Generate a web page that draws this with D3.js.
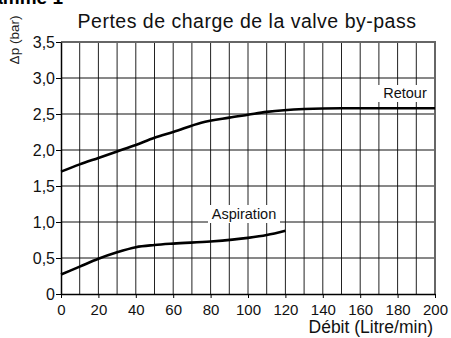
<!DOCTYPE html>
<html>
<head>
<meta charset="utf-8">
<script src="https://cdn.jsdelivr.net/npm/d3@7"></script>
<style>
  html, body { margin: 0; padding: 0; background: #fff; }
  svg { display: block; font-family: Arial, "Liberation Sans", sans-serif; }
</style>
</head>
<body>
<svg id="chart" width="451" height="338"></svg>
<script>
// Flow (L/min) vs pressure drop (bar) for the by-pass valve
const retourFlow = [0, 10, 20, 30, 40, 50, 60, 75, 90, 100, 110, 130, 150, 175, 200];
const retourDp   = [1.70, 1.80, 1.89, 1.98, 2.07, 2.17, 2.25, 2.38, 2.45, 2.49, 2.53, 2.57, 2.58, 2.58, 2.58];
const aspFlow    = [0, 10, 20, 30, 40, 50, 60, 80, 100, 110, 120];
const aspDp      = [0.27, 0.38, 0.49, 0.58, 0.65, 0.68, 0.70, 0.73, 0.78, 0.82, 0.88];
const xTicks = d3.range(0, 201, 20);
const xGrid  = d3.range(0, 201, 10);
const yTicks = [0, 0.5, 1.0, 1.5, 2.0, 2.5, 3.0, 3.5];
const yTickLabels = ["0", "0,5", "1,0", "1,5", "2,0", "2,5", "3,0", "3,5"];

const svg = d3.select("#chart");
const plotL = 61, plotR = 435, plotT = 42, plotB = 294;

const x = d3.scaleLinear().domain([0, 200]).range([plotL, plotR]);
const y = d3.scaleLinear().domain([0, 3.5]).range([plotB, plotT]);

// Figure caption, partly clipped at the top edge
svg.append("text").attr("x", 63).attr("y", 4).attr("text-anchor", "end")
  .attr("font-size", 19).attr("font-weight", "bold").text("Diagramme 1");

// Title
svg.append("text").attr("x", 247).attr("y", 28).attr("text-anchor", "middle")
  .attr("font-size", 19.5).attr("letter-spacing", 0.5).attr("fill", "#111")
  .text("Pertes de charge de la valve by-pass");

// Grid
const grid = svg.append("g");
grid.selectAll("line.v").data(xGrid.slice(1, -1)).join("line")
  .attr("x1", d => x(d)).attr("x2", d => x(d))
  .attr("y1", plotT).attr("y2", plotB)
  .attr("stroke", "#222").attr("stroke-width", 1);
grid.selectAll("line.h").data(yTicks.slice(1, -1)).join("line")
  .attr("x1", plotL).attr("x2", plotR)
  .attr("y1", d => y(d)).attr("y2", d => y(d))
  .attr("stroke", "#111").attr("stroke-width", 1);

// Top and right frame
svg.append("line").attr("x1", plotL).attr("x2", plotR + 1).attr("y1", plotT).attr("y2", plotT)
  .attr("stroke", "#666").attr("stroke-width", 2);
svg.append("line").attr("x1", plotR).attr("x2", plotR).attr("y1", plotT).attr("y2", plotB)
  .attr("stroke", "#666").attr("stroke-width", 2);

// Axes
const xAxis = d3.axisBottom(x).tickValues(xTicks).tickSize(4).tickSizeOuter(0)
  .tickFormat(d3.format("d"));
const gx = svg.append("g").attr("transform", `translate(0,${plotB})`).call(xAxis);
gx.select(".domain").attr("stroke", "#000").attr("stroke-width", 1.5);
gx.selectAll(".tick line").attr("stroke", "#000");
gx.selectAll("text").attr("font-size", 15).attr("fill", "#111").attr("dy", "0.92em")
  .attr("font-family", "Arial, 'Liberation Sans', sans-serif");

const yAxis = d3.axisLeft(y).tickValues(yTicks).tickSize(5).tickSizeOuter(0)
  .tickFormat((d, i) => yTickLabels[i]);
const gy = svg.append("g").attr("transform", `translate(${plotL},0)`).call(yAxis);
gy.select(".domain").attr("stroke", "#000").attr("stroke-width", 1.5);
gy.selectAll(".tick line").attr("stroke", "#000");
gy.selectAll("text").attr("font-size", 16).attr("fill", "#111").attr("x", -6)
  .attr("font-family", "Arial, 'Liberation Sans', sans-serif");

// Axis titles
svg.append("text").attr("transform", "translate(19,40) rotate(-90)")
  .attr("text-anchor", "middle").attr("font-size", 13.5).attr("fill", "#222").text("Δp (bar)");
svg.append("text").attr("x", 433).attr("y", 333).attr("text-anchor", "end")
  .attr("font-size", 17.5).attr("fill", "#111").text("Débit (Litre/min)");

// Curves
const line = d3.line().curve(d3.curveMonotoneX).x(d => x(d[0])).y(d => y(d[1]));
svg.append("path").datum(d3.zip(retourFlow, retourDp)).attr("d", line)
  .attr("fill", "none").attr("stroke", "#000").attr("stroke-width", 2.6);
svg.append("path").datum(d3.zip(aspFlow, aspDp)).attr("d", line)
  .attr("fill", "none").attr("stroke", "#000").attr("stroke-width", 2.6);

// Curve labels on white boxes
function label(text, x0, y0, w, h, tx, ty) {
  svg.append("rect").attr("x", x0).attr("y", y0).attr("width", w).attr("height", h)
    .attr("fill", "#fff");
  svg.append("text").attr("x", tx).attr("y", ty).attr("text-anchor", "middle")
    .attr("font-size", 14.5).attr("fill", "#111").text(text);
}
label("Aspiration", 208, 205, 72, 18, 244, 219);
label("Retour", 378, 85, 54, 17, 405, 98);
</script>
</body>
</html>
